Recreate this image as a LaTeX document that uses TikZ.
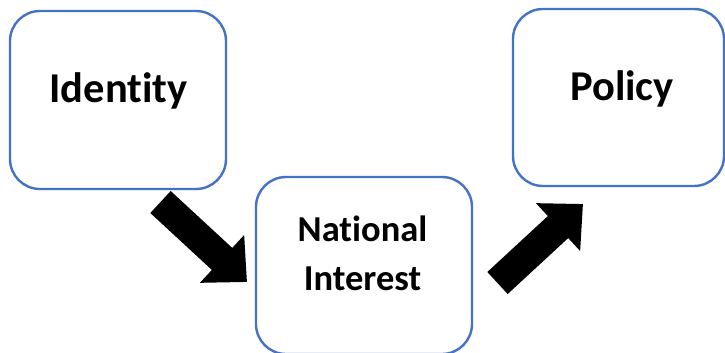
\documentclass[tikz,border=0pt]{standalone}
\usepackage{fontspec}
\setmainfont{Carlito}[Ligatures=NoCommon, Contextuals=NoAlternate]
\usetikzlibrary{arrows.meta}
\definecolor{boxblue}{HTML}{4472C4}
\tikzset{
  box/.style={draw=boxblue, line width=2.4pt, fill=white, rounded corners=30pt, minimum width=#1, inner sep=0pt},
  lbl/.style={font=\bfseries\fontsize{42.5}{49}\selectfont, inner sep=0pt},
  lblsmall/.style={font=\bfseries\fontsize{36.5}{49}\selectfont, inner sep=0pt, align=center},
  blockarrow/.style={line width=30pt, -{Triangle[length=34pt, width=63pt]}}
}
\begin{document}
\begin{tikzpicture}[x=1pt,y=-1pt]
\useasboundingbox (0,0) rectangle (725,353);
\fill[white] (0,0) rectangle (725,353);
% boxes
\node[box=216pt, minimum height=178pt] (idbox) at (118,100) {};
\node[box=216pt, minimum height=177pt] (nibox) at (364,265.5) {};
\node[box=211pt, minimum height=177pt] (pobox) at (618.5,97.5) {};
% labels
\node[lbl, anchor=base] (idtext) at (118.5,102) {Identity};
\node[lbl, anchor=base] (potext) at (622,100) {Policy};
\node[lblsmall, anchor=base] (nitext) at (362.5,290) {National\\Interest};
% arrows
\coordinate (a1s) at (160.5,202);
\coordinate (a1e) at (247,282);
\coordinate (a2s) at (497.5,283);
\coordinate (a2e) at (583,204);
\draw[blockarrow] (a1s) -- (a1e);
\draw[blockarrow] (a2s) -- (a2e);
\end{tikzpicture}
\end{document}
